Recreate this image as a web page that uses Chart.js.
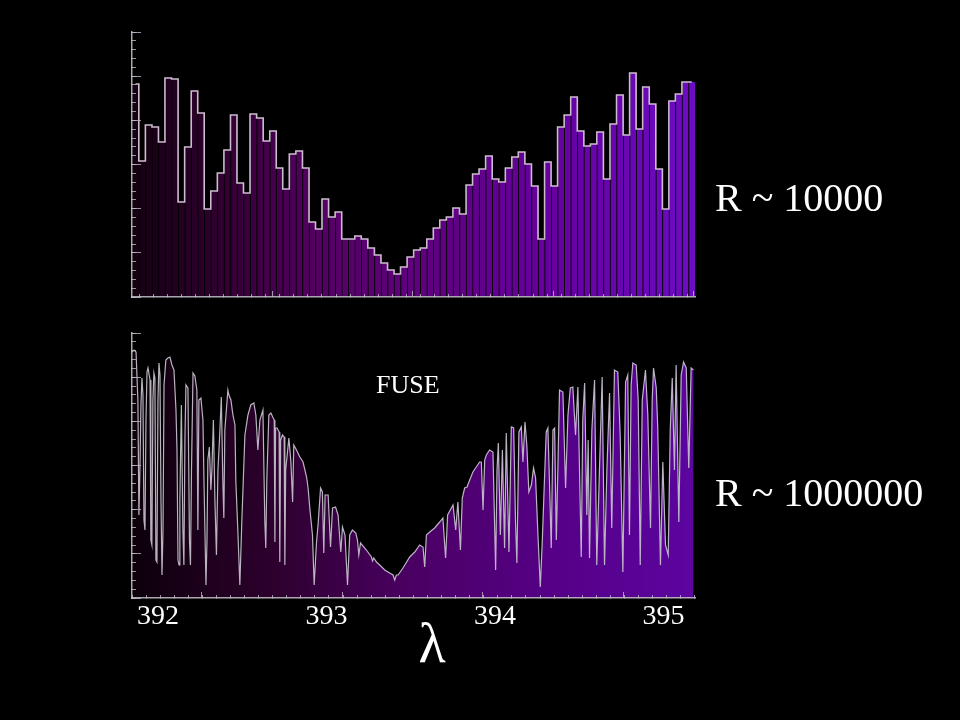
<!DOCTYPE html>
<html>
<head>
<meta charset="utf-8">
<title>R ~ 10000 vs R ~ 1000000</title>
<script src="https://cdn.jsdelivr.net/npm/chart.js@4/dist/chart.umd.min.js"></script>
<style>
    html, body { margin: 0; padding: 0; background: #000; }
    #wrap { position: relative; width: 960px; height: 720px; overflow: hidden; background: #000; }
    #wrap canvas { position: absolute; left: 0; top: 0; }
    .txt { position: absolute; color: #fff; font-family: "Liberation Serif", "Times New Roman", serif; line-height: 1; white-space: nowrap; }
</style>
</head>
<body>
<div id="wrap">
    <canvas id="lowRes" width="960" height="720"></canvas>
    <canvas id="highRes" width="960" height="720"></canvas>
    <div class="txt" style="left:715px; top:178px; font-size:40px;">R ~ 10000</div>
    <div class="txt" style="left:715px; top:473px; font-size:40px;">R ~ 1000000</div>
    <div class="txt" style="left:376px; top:372px; font-size:26px;">FUSE</div>
    <div class="txt" style="left:402px; top:615px; width:60px; text-align:center; font-size:56px;">λ</div>
</div>
<script>
// wavelength range of both panels (nm)
const waveMin = 391.846;
const waveMax = 395.187;
const fluxMax = 265;

const tickValues = [392, 393, 394, 395];
const tickLabels = ["392", "393", "394", "395"];
const majorTickMarks = [392.261, 393.097, 393.927, 394.763];
const minorTickStep = 0.0835;

// low resolution spectrum (R ~ 10000), bin centres
const binCenters = [
    391.867, 391.906, 391.945, 391.984, 392.022, 392.061, 392.100, 392.139, 392.178, 392.217,
    392.255, 392.294, 392.333, 392.372, 392.411, 392.450, 392.488, 392.527, 392.566, 392.605,
    392.644, 392.683, 392.721, 392.760, 392.799, 392.838, 392.877, 392.916, 392.954, 392.993,
    393.032, 393.071, 393.110, 393.149, 393.187, 393.226, 393.265, 393.304, 393.343, 393.382,
    393.420, 393.459, 393.498, 393.537, 393.576, 393.615, 393.653, 393.692, 393.731, 393.770,
    393.809, 393.848, 393.886, 393.925, 393.964, 394.003, 394.042, 394.081, 394.119, 394.158,
    394.197, 394.236, 394.275, 394.314, 394.352, 394.391, 394.430, 394.469, 394.508, 394.547,
    394.585, 394.624, 394.663, 394.702, 394.741, 394.780, 394.818, 394.857, 394.896, 394.935,
    394.974, 395.013, 395.051, 395.090, 395.129, 395.168
];
const lowResFlux = [
    213, 136, 172, 170, 155, 219, 218, 95, 150, 206,
    184, 88, 106, 124, 147, 182, 114, 104, 183, 179,
    156, 166, 129, 108, 143, 146, 129, 75, 68, 98,
    80, 85, 58, 58, 61, 58, 49, 42, 34, 27,
    23, 30, 40, 47, 49, 58, 69, 77, 80, 89,
    83, 112, 123, 128, 141, 118, 115, 129, 140, 145,
    133, 111, 58, 135, 111, 170, 182, 200, 166, 151,
    153, 165, 118, 173, 202, 162, 224, 168, 210, 193,
    128, 88, 196, 203, 215, 215
];

// high resolution spectrum (R ~ 1000000)
const hiResWave = [
    391.846, 391.858, 391.870, 391.881, 391.887, 391.893, 391.899, 391.905, 391.911, 391.917,
    391.923, 391.929, 391.935, 391.941, 391.953, 391.958, 391.964, 391.970, 391.976, 391.982,
    391.988, 391.994, 392.000, 392.006, 392.012, 392.018, 392.024, 392.030, 392.036, 392.047,
    392.059, 392.071, 392.083, 392.095, 392.107, 392.113, 392.119, 392.125, 392.130, 392.139,
    392.148, 392.154, 392.160, 392.166, 392.178, 392.187, 392.193, 392.199, 392.208, 392.219,
    392.231, 392.237, 392.243, 392.255, 392.267, 392.273, 392.285, 392.291, 392.296, 392.305,
    392.314, 392.320, 392.329, 392.338, 392.347, 392.356, 392.365, 392.376, 392.385, 392.391,
    392.397, 392.415, 392.421, 392.433, 392.445, 392.457, 392.462, 392.474, 392.486, 392.498,
    392.516, 392.534, 392.551, 392.569, 392.581, 392.593, 392.605, 392.623, 392.634, 392.640,
    392.646, 392.658, 392.670, 392.684, 392.690, 392.694, 392.698, 392.707, 392.719, 392.723,
    392.728, 392.739, 392.749, 392.753, 392.758, 392.777, 392.789, 392.799, 392.806, 392.822,
    392.842, 392.861, 392.882, 392.891, 392.901, 392.917, 392.927, 392.941, 392.950, 392.965,
    392.976, 392.984, 392.992, 393.010, 393.024, 393.036, 393.054, 393.069, 393.085, 393.095,
    393.110, 393.125, 393.138, 393.154, 393.174, 393.184, 393.192, 393.202, 393.237, 393.267,
    393.273, 393.281, 393.297, 393.316, 393.346, 393.375, 393.395, 393.405, 393.415, 393.425,
    393.454, 393.494, 393.524, 393.553, 393.573, 393.583, 393.593, 393.613, 393.642, 393.672,
    393.691, 393.707, 393.719, 393.751, 393.767, 393.780, 393.795, 393.806, 393.820, 393.834,
    393.850, 393.869, 393.889, 393.909, 393.919, 393.929, 393.939, 393.949, 393.968, 393.988,
    394.004, 394.012, 394.020, 394.032, 394.044, 394.057, 394.067, 394.083, 394.097, 394.111,
    394.122, 394.130, 394.142, 394.156, 394.166, 394.178, 394.189, 394.201, 394.216, 394.229,
    394.241, 394.255, 394.269, 394.281, 394.294, 394.304, 394.314, 394.324, 394.334, 394.344,
    394.354, 394.364, 394.373, 394.383, 394.403, 394.419, 394.433, 394.447, 394.462, 394.478,
    394.492, 394.512, 394.521, 394.532, 394.545, 394.553, 394.561, 394.575, 394.591, 394.604,
    394.620, 394.636, 394.650, 394.664, 394.680, 394.693, 394.709, 394.729, 394.743, 394.759,
    394.775, 394.788, 394.798, 394.808, 394.818, 394.838, 394.850, 394.862, 394.874, 394.893,
    394.907, 394.923, 394.933, 394.941, 394.957, 394.966, 394.982, 394.996, 395.012, 395.028,
    395.040, 395.052, 395.065, 395.075, 395.091, 395.105, 395.119, 395.135, 395.150, 395.164, 395.178
];
const hiResFlux = [
    246, 248, 246, 198, 83, 128, 193, 220, 203, 78,
    68, 178, 226, 230, 218, 58, 53, 198, 225, 220,
    38, 36, 198, 235, 223, 98, 23, 68, 213, 238,
    240, 241, 233, 228, 188, 148, 38, 33, 98, 193,
    68, 33, 158, 213, 210, 58, 33, 128, 225, 222,
    208, 68, 198, 200, 178, 118, 13, 58, 138, 151,
    108, 128, 178, 98, 43, 128, 158, 201, 118, 80,
    168, 208, 203, 198, 183, 173, 118, 68, 13, 78,
    163, 183, 193, 195, 183, 148, 178, 188, 78, 50,
    118, 183, 185, 180, 178, 56, 170, 170, 166, 36,
    158, 163, 161, 33, 128, 160, 136, 96, 153, 148,
    141, 136, 121, 110, 90, 63, 13, 56, 73, 110,
    106, 45, 103, 103, 51, 90, 91, 83, 46, 71,
    63, 13, 63, 68, 65, 58, 43, 55, 48, 41,
    37, 40, 36, 33, 28, 25, 23, 18, 23, 23,
    30, 41, 46, 53, 51, 31, 63, 66, 70, 76,
    80, 40, 83, 93, 68, 96, 48, 100, 110, 111,
    118, 126, 131, 136, 136, 88, 138, 143, 148, 146,
    28, 128, 155, 63, 148, 50, 165, 46, 171, 170,
    76, 35, 166, 171, 136, 176, 153, 106, 113, 130,
    120, 63, 11, 58, 120, 166, 170, 113, 50, 168,
    170, 58, 128, 208, 206, 110, 183, 210, 211, 163,
    211, 41, 178, 215, 83, 158, 40, 168, 218, 33,
    128, 221, 33, 128, 205, 70, 228, 226, 163, 26,
    216, 223, 63, 213, 235, 233, 198, 33, 198, 228,
    183, 70, 198, 230, 210, 170, 33, 136, 53, 43,
    168, 220, 128, 233, 76, 223, 236, 230, 130, 230, 228
];

const axisGray = "rgba(200, 195, 205, 0.85)";
const tickGray = "rgba(190, 185, 200, 0.8)";

// left-to-right purple fill, like the slide
function purpleFill(stops) {
    return context => {
        const { ctx, chartArea } = context.chart;
        if (!chartArea) return stops[0][1];
        const g = ctx.createLinearGradient(chartArea.left, 0, chartArea.right, 0);
        stops.forEach(([t, c]) => g.addColorStop(t, c));
        return g;
    };
}

const zeroWidth = s => { s.width = 0; };
const zeroHeight = s => { s.height = 0; };

// axis frame: ticks point into the plot and sit on top of the fill
function frameAxes() {
    return {
        x: {
            type: "linear", position: "bottom", min: waveMin, max: waveMax, offset: false, z: 1,
            afterFit: zeroHeight,
            afterBuildTicks: s => {
                const t = [];
                for (let v = waveMin; v <= waveMax + 1e-9; v += minorTickStep) t.push({ value: v });
                s.ticks = t;
            },
            ticks: { display: false },
            grid: { z: 1, drawOnChartArea: false, tickLength: -3, tickColor: tickGray, tickWidth: 1 },
            border: { z: 1, display: true, color: axisGray, width: 1.5 }
        },
        xMajor: {
            type: "linear", position: "bottom", min: waveMin, max: waveMax, offset: false, z: 1,
            afterFit: zeroHeight,
            afterBuildTicks: s => { s.ticks = majorTickMarks.map(v => ({ value: v })); },
            ticks: { display: false },
            grid: { z: 1, drawOnChartArea: false, tickLength: -6, tickColor: tickGray, tickWidth: 1 },
            border: { display: false }
        },
        y: {
            min: 0, max: fluxMax, position: "left", z: 1, afterFit: zeroWidth,
            ticks: { display: false, stepSize: fluxMax / 30 },
            grid: { z: 1, drawOnChartArea: false, tickLength: -4, tickColor: tickGray, tickWidth: 1 },
            border: { z: 1, display: true, color: axisGray, width: 1.5 }
        },
        yMajor: {
            min: 0, max: fluxMax, position: "left", z: 1, afterFit: zeroWidth,
            ticks: { display: false, stepSize: fluxMax / 6 },
            grid: { z: 1, drawOnChartArea: false, tickLength: -9, tickColor: tickGray, tickWidth: 1 },
            border: { display: false }
        }
    };
}

document.addEventListener("DOMContentLoaded", () => {
    const common = {
        responsive: false,
        animation: false,
        events: [],
        plugins: { legend: { display: false }, tooltip: { enabled: false }, title: { display: false } }
    };

    // top panel: histogram at R ~ 10000
    new Chart(document.getElementById("lowRes").getContext("2d"), {
        type: "bar",
        data: {
            datasets: [
                {
                    type: "line",
                    data: binCenters.map((w, i) => ({ x: w, y: lowResFlux[i] })),
                    stepped: "middle",
                    borderColor: "#cdbccf",
                    borderWidth: 1.6,
                    pointRadius: 0,
                    fill: false,
                    order: 0
                },
                {
                    type: "bar",
                    data: binCenters.map((w, i) => ({ x: w, y: lowResFlux[i] })),
                    backgroundColor: purpleFill([
                        [0, "rgb(20,0,16)"], [0.17, "rgb(50,0,50)"], [0.33, "rgb(85,0,100)"],
                        [0.5, "rgb(95,0,125)"], [0.75, "rgb(102,0,160)"], [1, "rgb(108,12,196)"]
                    ]),
                    borderColor: "rgba(0,0,0,0.28)",
                    borderWidth: { left: 1, right: 0, top: 0, bottom: 0 },
                    borderSkipped: false,
                    barPercentage: 1,
                    categoryPercentage: 1,
                    order: 1
                }
            ]
        },
        options: {
            ...common,
            layout: { padding: { left: 132, right: 265, top: 32, bottom: 423 } },
            scales: frameAxes()
        }
    });

    // bottom panel: spectrum at R ~ 1000000
    const hiScales = frameAxes();
    hiScales.xLabels = {
        type: "linear", position: "bottom", min: waveMin, max: waveMax, offset: false,
        weight: 10,
        afterFit: s => { s.height = 40; },
        afterBuildTicks: s => { s.ticks = tickValues.map(v => ({ value: v })); },
        ticks: {
            color: "#ffffff",
            padding: 2,
            maxRotation: 0,
            autoSkip: false,
            font: { family: "'Liberation Serif', 'Times New Roman', serif", size: 28 },
            callback: v => tickLabels[tickValues.indexOf(v)]
        },
        grid: { display: false, drawTicks: false },
        border: { display: false }
    };

    new Chart(document.getElementById("highRes").getContext("2d"), {
        type: "line",
        data: {
            datasets: [{
                data: hiResWave.map((w, i) => ({ x: w, y: hiResFlux[i] })),
                borderColor: "rgba(215,210,222,0.85)",
                borderWidth: 1.2,
                pointRadius: 0,
                tension: 0,
                fill: "origin",
                backgroundColor: purpleFill([
                    [0, "rgb(12,0,10)"], [0.25, "rgb(45,0,45)"], [0.5, "rgb(75,0,100)"],
                    [0.75, "rgb(85,0,135)"], [1, "rgb(92,5,160)"]
                ])
            }]
        },
        options: {
            ...common,
            layout: { padding: { left: 132, right: 265, top: 333, bottom: 82 } },
            scales: hiScales
        }
    });
});
</script>
</body>
</html>
